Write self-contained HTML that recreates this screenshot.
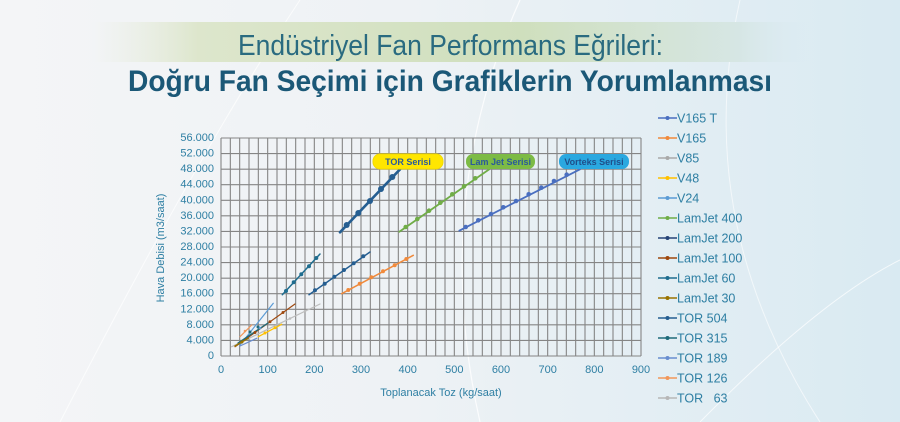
<!DOCTYPE html>
<html><head><meta charset="utf-8"><style>
html,body{margin:0;padding:0;}
body{width:900px;height:422px;overflow:hidden;background:linear-gradient(90deg,#f4f5f7 0%,#eef2f5 45%,#d9eaf2 100%);}
svg{display:block;font-family:"Liberation Sans",sans-serif;}
</style></head><body>
<svg width="900" height="422" viewBox="0 0 900 422" xmlns="http://www.w3.org/2000/svg">
<defs>
<linearGradient id="band" x1="0" x2="1" y1="0" y2="0">
<stop offset="0" stop-color="#e8eddf" stop-opacity="0"/>
<stop offset="0.15" stop-color="#dde6cc"/>
<stop offset="0.6" stop-color="#cfdfbd"/>
<stop offset="0.9" stop-color="#d6e6e4"/>
<stop offset="1" stop-color="#d9eaf2" stop-opacity="0"/>
</linearGradient>
</defs>
<path d="M 60 422 Q 200 150 300 0" stroke="#fff" stroke-width="1" fill="none" opacity="0.7"/>
<path d="M 520 0 Q 430 200 480 422" stroke="#fff" stroke-width="1.2" fill="none" opacity="0.8"/>
<path d="M 740 0 Q 690 220 820 422" stroke="#fff" stroke-width="1" fill="none" opacity="0.6"/>
<path d="M 700 422 Q 820 300 900 260" stroke="#fff" stroke-width="1" fill="none" opacity="0.7"/>
<rect x="90" y="22" width="720" height="40" fill="url(#band)"/>
<text x="238" y="55" font-size="29" fill="#2a6b80" font-weight="300" textLength="425" lengthAdjust="spacingAndGlyphs">Endüstriyel Fan Performans Eğrileri:</text>
<text x="128" y="91" font-size="30" fill="#1b5877" font-weight="bold" textLength="644" lengthAdjust="spacingAndGlyphs">Doğru Fan Seçimi için Grafiklerin Yorumlanması</text>

<g stroke="#858585" stroke-width="1.1">
<path id="grid" d="" />
</g>
<g id="g"></g>
<script>
var s='';
for(var i=0;i<=45;i++){var x=221+i*420/45;s+='M'+x.toFixed(2)+' 138V356';}
for(var j=0;j<=14;j++){var y=356-j*218/14;s+='M221 '+y.toFixed(2)+'H641';}
document.getElementById('grid').setAttribute('d',s);
</script>
<g font-size="11" fill="#2e7fa3" text-anchor="end">
<text x="214" y="141">56.000</text><text x="214" y="156.6">52.000</text><text x="214" y="172.1">48.000</text><text x="214" y="187.7">44.000</text><text x="214" y="203.3">40.000</text><text x="214" y="218.9">36.000</text><text x="214" y="234.4">32.000</text><text x="214" y="250">28.000</text><text x="214" y="265.6">24.000</text><text x="214" y="281.1">20.000</text><text x="214" y="296.7">16.000</text><text x="214" y="312.3">12.000</text><text x="214" y="327.9">8.000</text><text x="214" y="343.4">4.000</text><text x="214" y="359">0</text>
</g>
<g font-size="11" fill="#2e7fa3" text-anchor="middle">
<text x="221" y="373">0</text><text x="267.7" y="373">100</text><text x="314.3" y="373">200</text><text x="361" y="373">300</text><text x="407.7" y="373">400</text><text x="454.3" y="373">500</text><text x="501" y="373">600</text><text x="547.7" y="373">700</text><text x="594.3" y="373">800</text><text x="641" y="373">900</text>
<text x="441" y="396">Toplanacak Toz (kg/saat)</text>
<text transform="translate(164,248) rotate(-90)">Hava Debisi (m3/saat)</text>
</g>

<!-- series -->
<g fill="none" stroke-linecap="round">
<line x1="340" y1="232.3" x2="400" y2="169.3" stroke="#255e91" stroke-width="2.6"/>
<line x1="399.3" y1="231.7" x2="489.3" y2="169.3" stroke="#70ad47" stroke-width="1.8"/>
<line x1="459.3" y1="230.7" x2="580" y2="169.3" stroke="#4a6fc0" stroke-width="1.8"/>
<line x1="282.3" y1="294.7" x2="320" y2="254" stroke="#1f6d8f" stroke-width="1.5"/>
<line x1="309" y1="294.7" x2="370" y2="252" stroke="#255e91" stroke-width="1.5"/>
<line x1="341.7" y1="293.7" x2="413.3" y2="255.3" stroke="#f08a3c" stroke-width="1.5"/>
<line x1="240" y1="345" x2="273.3" y2="303.3" stroke="#5b9bd5" stroke-width="1.2"/>
<line x1="240" y1="346" x2="256.7" y2="338.3" stroke="#698ed0" stroke-width="1.2"/>
<line x1="240" y1="336.7" x2="251.7" y2="325" stroke="#f1975a" stroke-width="1.2"/>
<line x1="231.7" y1="346.7" x2="320" y2="304" stroke="#bdbdbd" stroke-width="1.2"/>
<line x1="235" y1="346.7" x2="295" y2="304" stroke="#9e480e" stroke-width="1.2"/>
<line x1="238" y1="343" x2="268" y2="323" stroke="#1f6b7a" stroke-width="1.3"/>
<line x1="258.3" y1="336.7" x2="281.7" y2="324.3" stroke="#ffc000" stroke-width="1.3"/>
<line x1="235" y1="346" x2="248.3" y2="338.3" stroke="#997300" stroke-width="1.4"/>
</g>
<g fill="#255e91">
<circle cx="346.7" cy="225" r="3"/><circle cx="358.3" cy="213" r="3"/><circle cx="370" cy="201" r="3"/><circle cx="381" cy="189" r="3"/><circle cx="392.3" cy="177" r="3"/>
</g>
<g fill="#70ad47">
<circle cx="405.7" cy="227" r="2.3"/><circle cx="417.3" cy="219" r="2.3"/><circle cx="429" cy="210.7" r="2.3"/><circle cx="440.3" cy="202.7" r="2.3"/><circle cx="452.3" cy="194.3" r="2.3"/><circle cx="464" cy="186.3" r="2.3"/><circle cx="475.3" cy="178.3" r="2.3"/>
</g>
<g fill="#4a6fc0">
<circle cx="465.7" cy="227" r="2.3"/><circle cx="478.3" cy="220.3" r="2.3"/><circle cx="491" cy="214" r="2.3"/><circle cx="503.3" cy="207.3" r="2.3"/><circle cx="516" cy="201" r="2.3"/><circle cx="528.7" cy="194.3" r="2.3"/><circle cx="541.3" cy="187.7" r="2.3"/><circle cx="554" cy="181" r="2.3"/><circle cx="566.7" cy="174.7" r="2.3"/>
</g>
<g fill="#1f6d8f">
<circle cx="286" cy="291" r="2"/><circle cx="293.7" cy="282.3" r="2"/><circle cx="301.3" cy="274.3" r="2"/><circle cx="309" cy="266.3" r="2"/><circle cx="316.3" cy="258" r="2"/>
</g>
<g fill="#255e91">
<circle cx="315" cy="290.3" r="2"/><circle cx="324.7" cy="283.7" r="2"/><circle cx="334.3" cy="276.7" r="2"/><circle cx="344" cy="270" r="2"/><circle cx="353.7" cy="263.3" r="2"/><circle cx="363.3" cy="256.3" r="2"/>
</g>
<g fill="#f08a3c">
<circle cx="348.3" cy="290" r="2"/><circle cx="359.7" cy="283.7" r="2"/><circle cx="371.3" cy="277.3" r="2"/><circle cx="383" cy="271.3" r="2"/><circle cx="394.7" cy="265.3" r="2"/><circle cx="406.3" cy="259" r="2"/>
</g>
<g r="1.5">
<circle cx="250" cy="332" r="1.5" fill="#1f6b7a"/><circle cx="258" cy="327" r="1.5" fill="#1f6b7a"/>
<circle cx="255" cy="332.5" r="1.5" fill="#9e480e"/><circle cx="270" cy="321.8" r="1.5" fill="#9e480e"/><circle cx="283" cy="312.5" r="1.5" fill="#9e480e"/>
<circle cx="265" cy="333" r="1.5" fill="#ffc000"/><circle cx="275" cy="327.8" r="1.5" fill="#ffc000"/>
<circle cx="260" cy="328" r="1.3" fill="#5b9bd5"/>
<circle cx="290" cy="318.5" r="1.3" fill="#bdbdbd"/><circle cx="305" cy="311" r="1.3" fill="#bdbdbd"/>
<circle cx="245" cy="331" r="1.3" fill="#f1975a"/>
<circle cx="242" cy="342" r="1.5" fill="#997300"/>
</g>

<!-- series labels -->
<rect x="373" y="154" width="70" height="15" rx="7" fill="#ffe600" stroke="#f1d900"/>
<text x="408" y="165" font-size="9" font-weight="bold" fill="#2a5a9a" text-anchor="middle">TOR Serisi</text>
<rect x="466" y="154" width="69" height="15" rx="7" fill="#7dbb45"/>
<text x="500.5" y="165" font-size="9" font-weight="bold" fill="#2a5a9a" text-anchor="middle">Lam Jet Serisi</text>
<rect x="559" y="154" width="70" height="15" rx="7" fill="#2aa8e0"/>
<text x="594" y="165" font-size="9" font-weight="bold" fill="#1f4f8a" text-anchor="middle">Vorteks Serisi</text>

<!-- legend -->
<g font-size="12.5" fill="#2e7fa3" stroke-width="1.6">
<g transform="translate(0,118)"><line x1="658" x2="677" stroke="#4a6fc0"/><circle cx="667.5" r="2" fill="#4a6fc0"/><text x="677" y="4.5">V165 T</text></g>
<g transform="translate(0,138)"><line x1="658" x2="677" stroke="#f08a3c"/><circle cx="667.5" r="2" fill="#f08a3c"/><text x="677" y="4.5">V165</text></g>
<g transform="translate(0,158)"><line x1="658" x2="677" stroke="#a9a9a9"/><circle cx="667.5" r="2" fill="#a9a9a9"/><text x="677" y="4.5">V85</text></g>
<g transform="translate(0,178)"><line x1="658" x2="677" stroke="#ffc000"/><circle cx="667.5" r="2" fill="#ffc000"/><text x="677" y="4.5">V48</text></g>
<g transform="translate(0,198)"><line x1="658" x2="677" stroke="#5b9bd5"/><circle cx="667.5" r="2" fill="#5b9bd5"/><text x="677" y="4.5">V24</text></g>
<g transform="translate(0,218)"><line x1="658" x2="677" stroke="#70ad47"/><circle cx="667.5" r="2" fill="#70ad47"/><text x="677" y="4.5">LamJet 400</text></g>
<g transform="translate(0,238)"><line x1="658" x2="677" stroke="#264478"/><circle cx="667.5" r="2" fill="#264478"/><text x="677" y="4.5">LamJet 200</text></g>
<g transform="translate(0,258)"><line x1="658" x2="677" stroke="#9e480e"/><circle cx="667.5" r="2" fill="#9e480e"/><text x="677" y="4.5">LamJet 100</text></g>
<g transform="translate(0,278)"><line x1="658" x2="677" stroke="#1f6d8f"/><circle cx="667.5" r="2" fill="#1f6d8f"/><text x="677" y="4.5">LamJet 60</text></g>
<g transform="translate(0,298)"><line x1="658" x2="677" stroke="#997300"/><circle cx="667.5" r="2" fill="#997300"/><text x="677" y="4.5">LamJet 30</text></g>
<g transform="translate(0,318)"><line x1="658" x2="677" stroke="#255e91"/><circle cx="667.5" r="2" fill="#255e91"/><text x="677" y="4.5">TOR 504</text></g>
<g transform="translate(0,338)"><line x1="658" x2="677" stroke="#1f6b7a"/><circle cx="667.5" r="2" fill="#1f6b7a"/><text x="677" y="4.5">TOR 315</text></g>
<g transform="translate(0,358)"><line x1="658" x2="677" stroke="#698ed0"/><circle cx="667.5" r="2" fill="#698ed0"/><text x="677" y="4.5">TOR 189</text></g>
<g transform="translate(0,378)"><line x1="658" x2="677" stroke="#f1975a"/><circle cx="667.5" r="2" fill="#f1975a"/><text x="677" y="4.5">TOR 126</text></g>
<g transform="translate(0,398)"><line x1="658" x2="677" stroke="#b7b7b7"/><circle cx="667.5" r="2" fill="#b7b7b7"/><text x="677" y="4.5" xml:space="preserve">TOR   63</text></g>
</g>
</svg>
</body></html>
